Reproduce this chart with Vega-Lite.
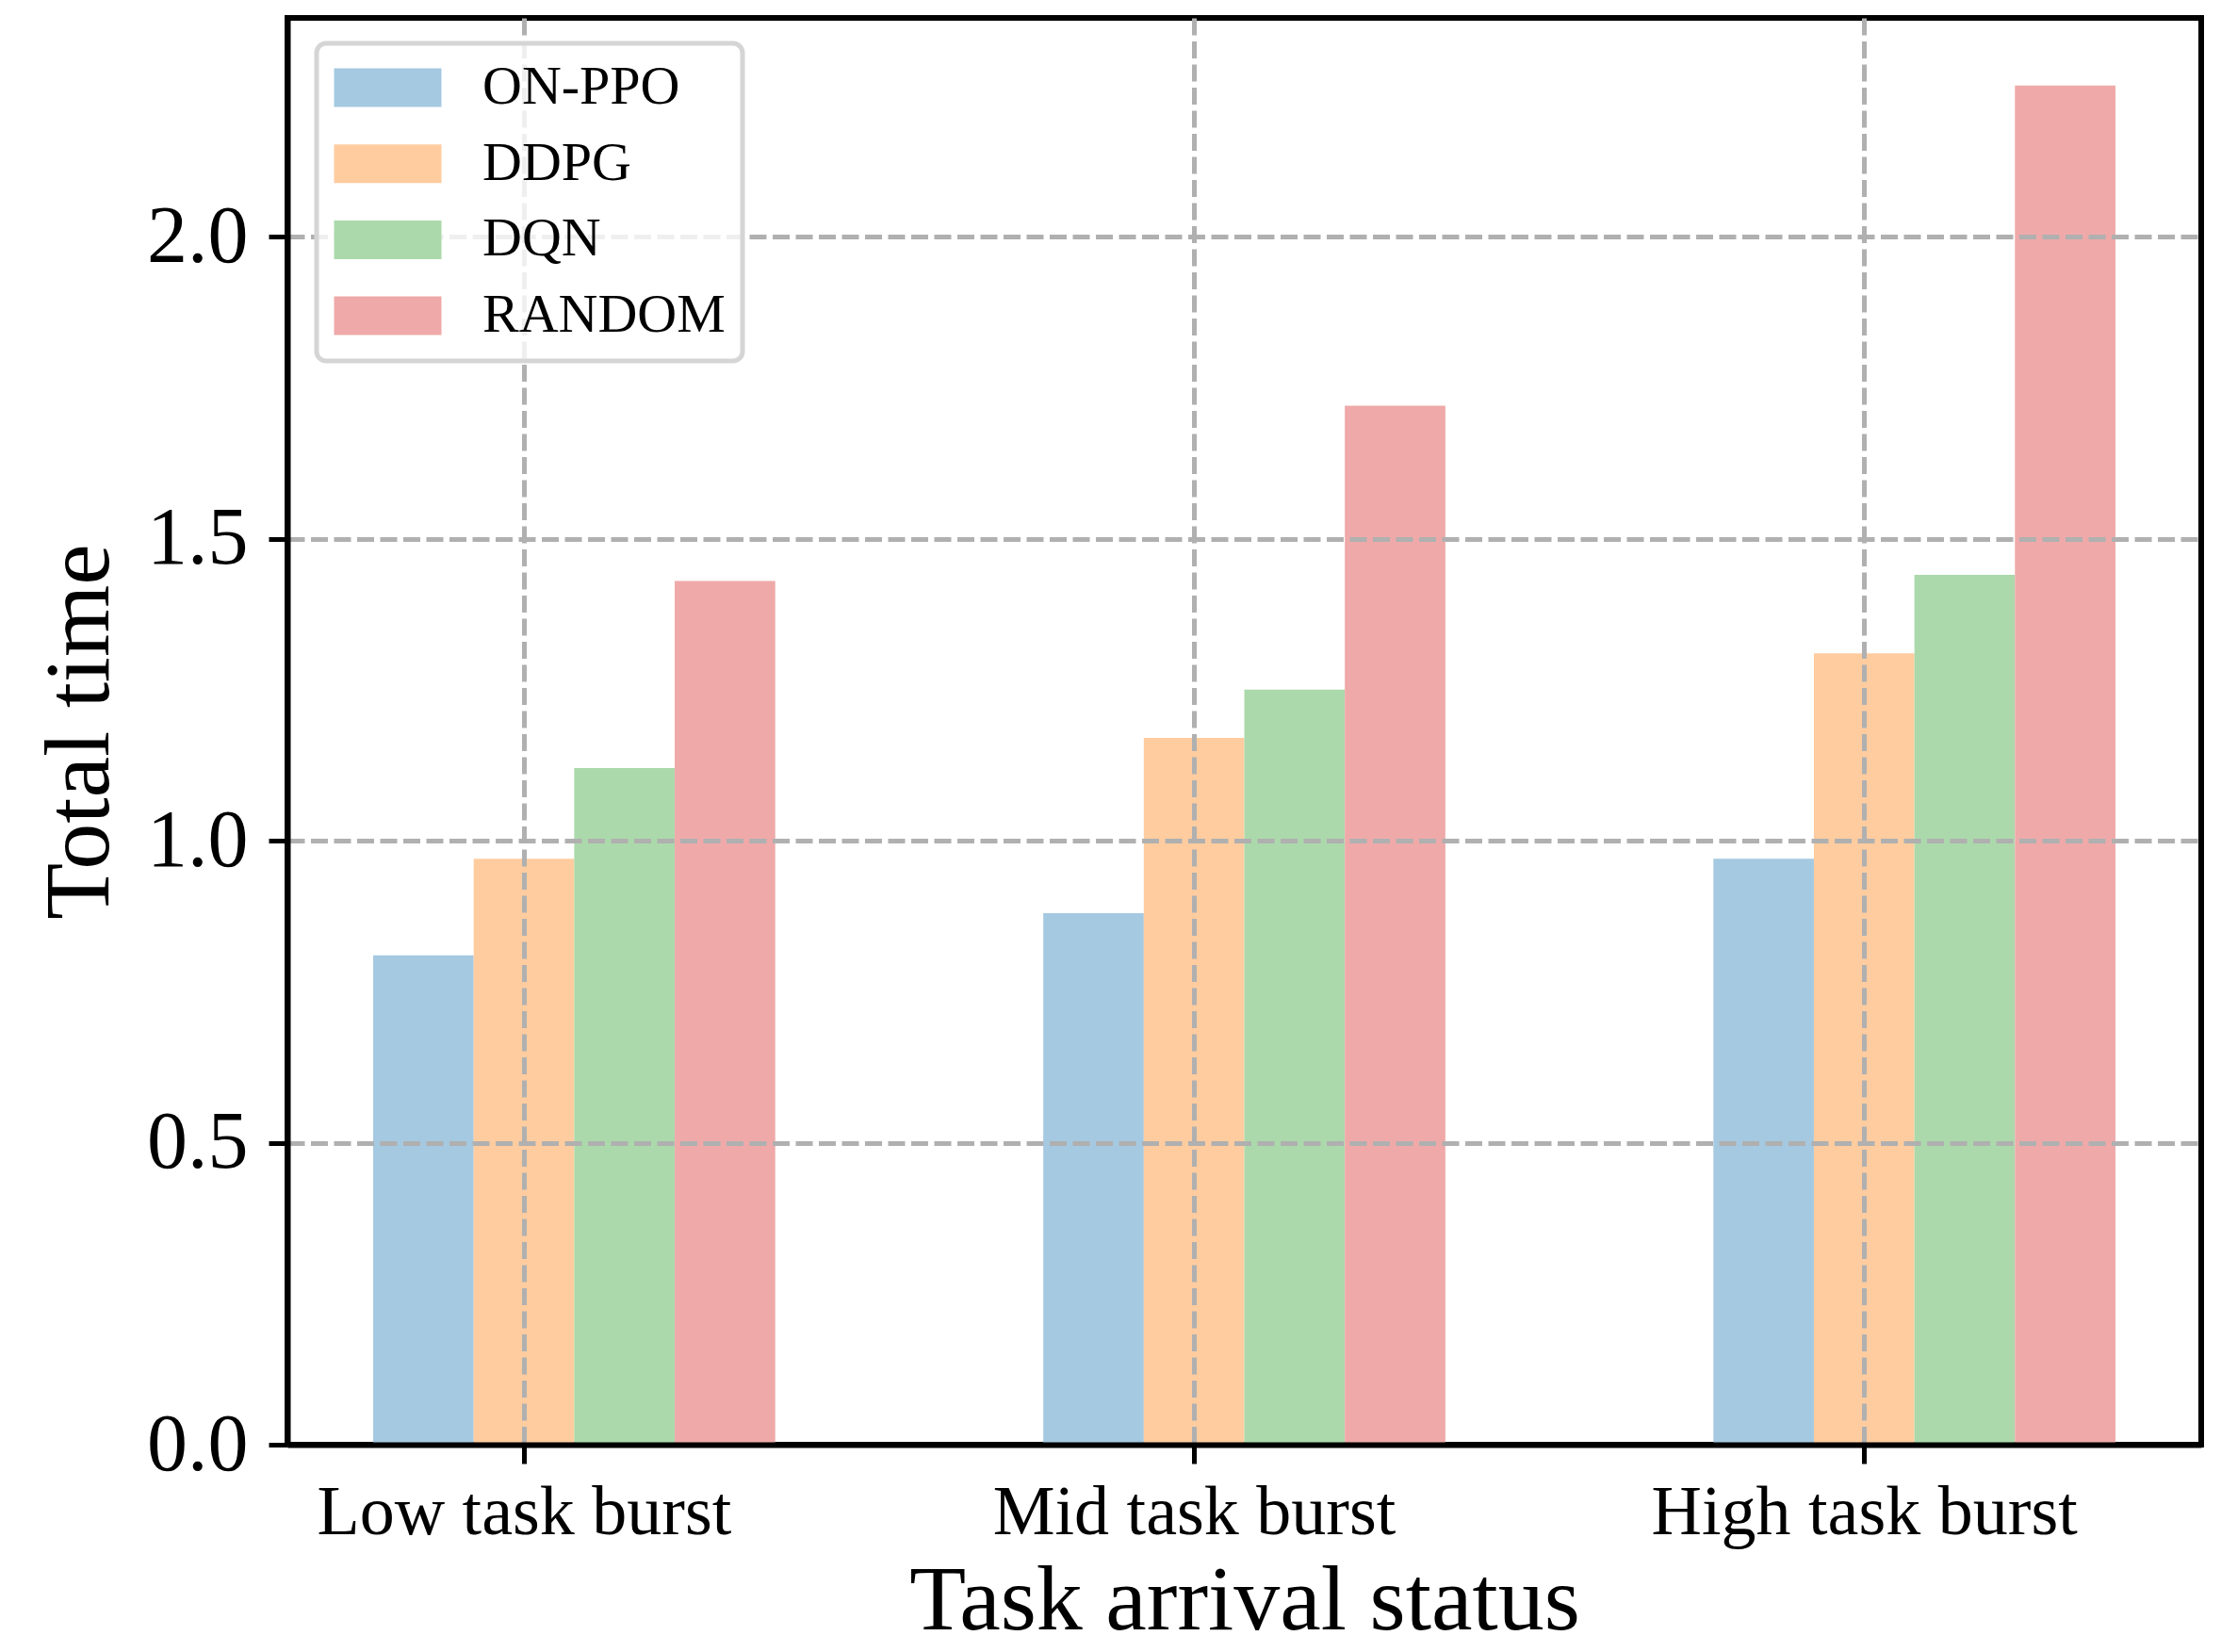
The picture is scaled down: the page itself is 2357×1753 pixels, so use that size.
{
  "$schema": "https://vega.github.io/schema/vega-lite/v6.json",
  "width": 2031,
  "height": 1514,
  "autosize": {"type": "none"},
  "padding": {"left": 305, "top": 19, "right": 21, "bottom": 220},
  "background": "white",
  "data": {
    "values": [
      {"status": "Low task burst", "method": "ON-PPO", "time": 0.81},
      {"status": "Low task burst", "method": "DDPG", "time": 0.97},
      {"status": "Low task burst", "method": "DQN", "time": 1.12},
      {"status": "Low task burst", "method": "RANDOM", "time": 1.43},
      {"status": "Mid task burst", "method": "ON-PPO", "time": 0.88},
      {"status": "Mid task burst", "method": "DDPG", "time": 1.17},
      {"status": "Mid task burst", "method": "DQN", "time": 1.25},
      {"status": "Mid task burst", "method": "RANDOM", "time": 1.72},
      {"status": "High task burst", "method": "ON-PPO", "time": 0.97},
      {"status": "High task burst", "method": "DDPG", "time": 1.31},
      {"status": "High task burst", "method": "DQN", "time": 1.44},
      {"status": "High task burst", "method": "RANDOM", "time": 2.25}
    ]
  },
  "mark": {"type": "bar"},
  "encoding": {
    "x": {
      "field": "status",
      "type": "nominal",
      "sort": ["Low task burst", "Mid task burst", "High task burst"],
      "scale": {"paddingInner": 0.4, "paddingOuter": 0.128},
      "axis": {
        "title": "Task arrival status",
        "labelAngle": 0,
        "bandPosition": 0.375,
        "labelOffset": -53,
        "labelFontSize": 74,
        "titleFontSize": 98,
        "labelPadding": 16,
        "titlePadding": 9,
        "labelLimit": 2000,
        "zindex": 1
      }
    },
    "xOffset": {
      "field": "method",
      "type": "nominal",
      "sort": ["ON-PPO", "DDPG", "DQN", "RANDOM"],
      "scale": {"paddingInner": 0, "paddingOuter": 0}
    },
    "y": {
      "field": "time",
      "type": "quantitative",
      "scale": {"domain": [0, 2.362], "nice": false, "zero": true},
      "axis": {
        "title": "Total time",
        "values": [0, 0.5, 1, 1.5, 2],
        "format": ".1f",
        "labelFontSize": 86,
        "titleFontSize": 98,
        "labelPadding": 22,
        "titlePadding": 20,
        "labelLimit": 2000,
        "zindex": 1
      }
    },
    "color": {
      "field": "method",
      "type": "nominal",
      "scale": {
        "domain": ["ON-PPO", "DDPG", "DQN", "RANDOM"],
        "range": ["#a5c9e1", "#ffcc9f", "#abd9ab", "#efa9a9"]
      },
      "legend": {
        "title": null,
        "orient": "none",
        "legendX": 31,
        "legendY": 27,
        "symbolType": "M-1,-0.72H3V0.72H-1Z",
        "symbolSize": 3249,
        "symbolStrokeWidth": 0,
        "symbolOpacity": 1,
        "labelFont": "Liberation Serif",
        "labelFontSize": 58,
        "labelColor": "black",
        "labelOffset": 100,
        "labelLimit": 2000,
        "rowPadding": 22.7,
        "padding": 18,
        "fillColor": "rgba(255,255,255,0.8)",
        "strokeColor": "#d5d5d5",
        "cornerRadius": 10,
        "zindex": 2,
        "encode": {"legend": {"update": {"strokeWidth": {"value": 5}}}}
      }
    }
  },
  "config": {
    "view": {"stroke": "black", "strokeWidth": 6},
    "axis": {
      "domain": true,
      "domainColor": "black",
      "domainWidth": 6,
      "ticks": true,
      "tickColor": "black",
      "tickWidth": 5,
      "tickSize": 20,
      "grid": true,
      "gridColor": "#b0b0b0",
      "gridWidth": 5,
      "gridDash": [18, 6.5],
      "labelFont": "Liberation Serif",
      "titleFont": "Liberation Serif",
      "labelColor": "black",
      "titleColor": "black",
      "titleFontWeight": "normal"
    }
  }
}
